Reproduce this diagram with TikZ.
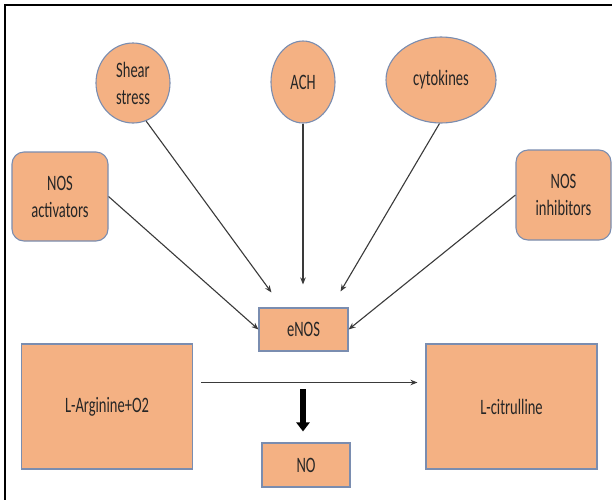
\documentclass[tikz,border=0pt]{standalone}
\usepackage{fontspec}
\newfontfamily\labfont[FakeStretch=0.66]{Carlito}
\usetikzlibrary{shapes.geometric,arrows.meta,calc}
\definecolor{boxfill}{HTML}{F4B183}
\definecolor{boxline}{HTML}{7A8DB0}
\definecolor{conn}{HTML}{3A3A3A}
\tikzset{
  lab/.style={font=\labfont\fontsize{22}{27}\selectfont, align=center, text=black!85},
  oval/.style={lab, ellipse, fill=boxfill, draw=boxline, line width=1.1pt, inner sep=0pt},
  rbox/.style={lab, rectangle, rounded corners=12pt, fill=boxfill, draw=boxline, line width=1.1pt, inner sep=0pt},
  sbox/.style={lab, rectangle, fill=boxfill, draw=boxline, line width=1.1pt, inner sep=0pt},
  conn/.style={draw=conn, line width=1.1pt, -{Stealth[length=7pt,width=5.5pt]}},
  bigarrow/.style={draw=black, line width=6pt, -{Triangle[length=9pt,width=13pt]}}
}
\begin{document}
\begin{tikzpicture}[x=1pt,y=-1pt]
\useasboundingbox (0,0) rectangle (612,499);
\fill[white] (0,0) rectangle (612,499);
% frame (continues beyond right and bottom)
\draw[black, line width=2.6pt] (5,510) -- (5,5) -- (620,5);

% top ellipses
\node[oval, minimum width=74pt, minimum height=80pt] (shear) at (133,83) {Shear\\stress};
\node[oval, minimum width=64pt, minimum height=82pt] (ach) at (303,82) {ACH};
\node[oval, minimum width=110pt, minimum height=86pt] (cyt) at (441,80) {cytokines};

% side rounded boxes
\node[rbox, minimum width=96pt, minimum height=89pt] (act) at (60,196.5) {NOS\\activators};
\node[rbox, minimum width=95pt, minimum height=90pt] (inh) at (563.5,195) {NOS\\inhibitors};

% eNOS
\node[sbox, minimum width=89pt, minimum height=43pt] (enos) at (303.5,329.5) {eNOS};

% bottom boxes
\node[sbox, minimum width=171pt, minimum height=125pt] (arg) at (107,406.5) {L-Arginine+O2};
\node[sbox, minimum width=171pt, minimum height=125pt] (cit) at (511.5,406.5) {L-citrulline};
\node[sbox, minimum width=88pt, minimum height=44pt] (no) at (306,465) {NO};

% connectors to eNOS
\draw[conn] (shear.-71) -- ($(enos.north west)+(13,-15)$);
\draw[conn] (ach.south) -- ($(enos.north)+(-0.5,-23)$);
\draw[conn] (cyt.-92) -- ($(enos.north east)+(-8,-16)$);
\draw[conn] (act.east) -- (enos.west);
\draw[conn] (inh.west) -- (enos.east);

% reaction arrow
\draw[conn] ($(arg.east)+(8,-24)$) coordinate (hs) -- ($(cit.west)+(-8,-24)$) coordinate (he);
% thick arrow to NO
\coordinate (ts) at ($(no.north)+(-3,-53)$);
\draw[bigarrow] (ts) -- ($(no.north)+(-3,-11)$);
\end{tikzpicture}
\end{document}
